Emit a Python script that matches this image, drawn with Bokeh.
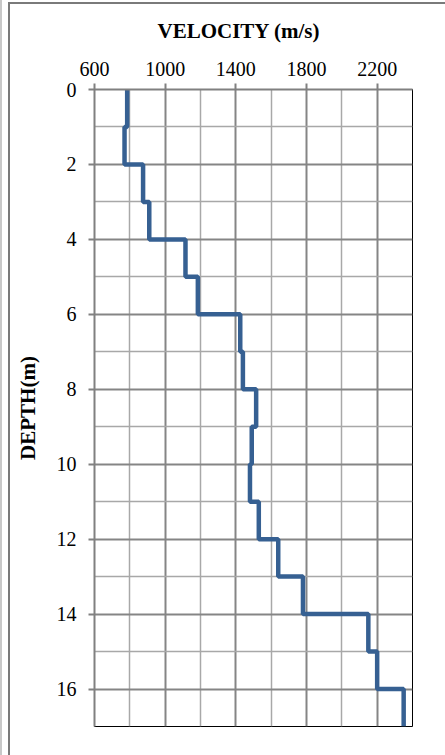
from bokeh.plotting import figure
from bokeh.models import FixedTicker, Title, InlineStyleSheet
from bokeh.embed import file_html
from bokeh.resources import INLINE

# ---- data ----
depth_top = [0, 1, 2, 3, 4, 5, 6, 7, 8, 9, 10, 11, 12, 13, 14, 15, 16]
depth_bottom = [1, 2, 3, 4, 5, 6, 7, 8, 9, 10, 11, 12, 13, 14, 15, 16, 17]
velocity = [785, 770, 875, 910, 1115, 1185, 1425, 1440, 1515, 1490, 1480, 1530, 1640, 1780, 2150, 2200, 2350]
x_major_ticks = [600, 1000, 1400, 1800, 2200]
x_minor_ticks = [800, 1200, 1600, 2000, 2400]
y_major_ticks = [0, 2, 4, 6, 8, 10, 12, 14, 16]
y_minor_ticks = [1, 3, 5, 7, 9, 11, 13, 15, 17]

# staircase profile
xs, ys = [], []
for v, t, b in zip(velocity, depth_top, depth_bottom):
    xs += [v, v]
    ys += [t, b]

FONT = "Liberation Serif"

p = figure(width=445, height=755, x_range=(600, 2400), y_range=(17, 0),
           x_axis_location="above", output_backend="svg", toolbar_location=None,
           min_border_left=94, min_border_right=33, min_border_top=89, min_border_bottom=29)

p.title = Title(text="VELOCITY   (m/s)", align="left", offset=63, standoff=32,
                text_font=FONT, text_font_size="21px", text_font_style="bold",
                text_color="black")

p.background_fill_color = "white"
p.border_fill_color = "white"
p.outline_line_color = "black"
p.outline_line_width = 1

# x axis (top)
xa = p.xaxis[0]
xa.ticker = FixedTicker(ticks=x_major_ticks, minor_ticks=x_minor_ticks)
xa.major_label_text_font = FONT
xa.major_label_text_font_size = "20px"
xa.major_label_text_color = "black"
xa.major_label_standoff = 8
xa.major_tick_out = 6
xa.major_tick_in = 0
xa.minor_tick_out = 0
xa.minor_tick_in = 0
xa.major_tick_line_color = "#808080"
xa.major_tick_line_width = 2
xa.axis_line_color = "#808080"
xa.axis_line_width = 2

# y axis (left)
ya = p.yaxis[0]
ya.ticker = FixedTicker(ticks=y_major_ticks, minor_ticks=y_minor_ticks)
ya.major_label_text_font = FONT
ya.major_label_text_font_size = "20px"
ya.major_label_text_color = "black"
ya.major_label_standoff = 12
ya.major_tick_out = 6
ya.major_tick_in = 0
ya.minor_tick_out = 0
ya.minor_tick_in = 0
ya.major_tick_line_color = "#808080"
ya.major_tick_line_width = 2
ya.axis_line_color = "#808080"
ya.axis_line_width = 2
ya.axis_label = "DEPTH(m)"
ya.axis_label_text_font = FONT
ya.axis_label_text_font_size = "21px"
ya.axis_label_text_font_style = "bold"
ya.axis_label_text_color = "black"
ya.axis_label_standoff = 14

for g in (p.xgrid[0], p.ygrid[0]):
    g.grid_line_color = "#858585"
    g.grid_line_width = 2
    g.minor_grid_line_color = "#a8a8a8"
    g.minor_grid_line_width = 1.5

p.line(xs, ys, line_color="#366092", line_width=4.5)

# outer chart border (drawn as a CSS overlay on the figure element)
p.stylesheets = [InlineStyleSheet(css="""
:host { position: relative; }
:host::after {
  content: ""; position: absolute; left: 8px; top: 2px;
  width: 437px; height: 753px; box-sizing: border-box;
  border-left: 2px solid #7a7a7a; border-top: 2px solid #7a7a7a;
  pointer-events: none; z-index: 10;
}
:host::before {
  content: ""; position: absolute; left: 0px; top: 0px;
  width: 2px; height: 755px; background: #c8c8c8;
  pointer-events: none; z-index: 10;
}
""")]

open("out.html", "w").write(file_html(p, INLINE))
